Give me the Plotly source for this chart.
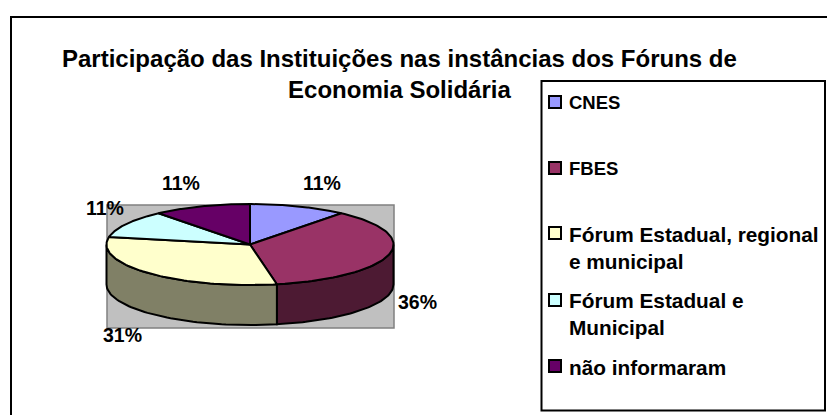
import numpy as np
import plotly.graph_objects as go

categories = ["CNES", "FBES", "Fórum Estadual, regional<br>e municipal", "Fórum Estadual e<br>Municipal", "não informaram"]
values = [11, 36, 31, 11, 11]
top_colors = ["#9999FF", "#993366", "#FFFFCC", "#CCFFFF", "#660066"]
side_colors = ["#4D4D80", "#4D1A33", "#808066", "#668080", "#330033"]
title_text = "Participação das Instituições nas instâncias dos Fóruns de<br>Economia Solidária"

W, H = 827, 415
CX, CY, RX, RY, DEPTH = 250, 244.5, 143.5, 40.5, 40
INK = "#000000"

fig = go.Figure()
fig.update_layout(
    width=W, height=H, margin=dict(l=0, r=0, t=0, b=0),
    paper_bgcolor="white", plot_bgcolor="white", showlegend=False,
    xaxis=dict(range=[0, W], visible=False, fixedrange=True),
    yaxis=dict(range=[H, 0], visible=False, fixedrange=True),
    font=dict(family="Liberation Sans", color="black"),
)

def rect(x0, y0, x1, y1, fill=None, line="black", lw=2):
    fig.add_shape(type="rect", x0=x0, y0=y0, x1=x1, y1=y1,
                  fillcolor=fill or "rgba(0,0,0,0)",
                  line=dict(color=line, width=lw), layer="below")

fig.add_shape(type="path", path="M 11 420 L 11 17 L 830 17", line=dict(color="black", width=2), layer="below")
rect(107, 205, 394, 328, fill="#C0C0C0", line="#808080", lw=1.5)
rect(541.5, 81, 825, 410.5, fill="white", line="black", lw=2)

def ell(frac):
    a = 2 * np.pi * np.asarray(frac)
    return CX + RX * np.sin(a), CY - RY * np.cos(a)

cum = np.concatenate([[0], np.cumsum(values)]) / sum(values)

# rim (only the visible front part: a from 25% to 75% of the turn)
for i in range(len(values)):
    lo, hi = max(cum[i], 0.25), min(cum[i + 1], 0.75)
    if hi <= lo:
        continue
    t = np.linspace(lo, hi, 60)
    x, y = ell(t)
    px = np.concatenate([x, x[::-1], x[:1]])
    py = np.concatenate([y, y[::-1] + DEPTH, y[:1]])
    fig.add_trace(go.Scatter(x=px, y=py, mode="lines", fill="toself", fillcolor=side_colors[i],
                             line=dict(color=INK, width=2), hoverinfo="skip"))

# top face
for i in range(len(values)):
    t = np.linspace(cum[i], cum[i + 1], 80)
    x, y = ell(t)
    px = np.concatenate([[CX], x, [CX]])
    py = np.concatenate([[CY], y, [CY]])
    fig.add_trace(go.Scatter(x=px, y=py, mode="lines", fill="toself", fillcolor=top_colors[i],
                             line=dict(color=INK, width=2), hoverinfo="skip"))

# title
fig.add_annotation(x=399, y=73.5, text="<b>" + title_text + "</b>", showarrow=False, xanchor="center",
                   yanchor="middle", align="center", font=dict(size=24, family="Liberation Sans", color="black"))

# percent labels
label_xy = [(322, 183), (417, 302), (122, 335), (105, 208), (181, 183)]
for (lx, ly), v in zip(label_xy, values):
    fig.add_annotation(x=lx, y=ly, text=f"<b>{v}%</b>", showarrow=False, xanchor="center", yanchor="middle",
                       font=dict(size=19.5, family="Liberation Sans", color="black"))

# legend
swatch_y = [102, 168, 233, 300, 366]
label_y = [102, 168, 248, 314, 367]
label_size = [18.5, 18.5, 20.8, 20.8, 20.8]
for yy, ly, sz, c, name in zip(swatch_y, label_y, label_size, top_colors, categories):
    fig.add_shape(type="rect", x0=549, y0=yy - 6, x1=561, y1=yy + 6, fillcolor=c,
                  line=dict(color="black", width=2))
    fig.add_annotation(x=567, y=ly, text="<b>" + name + "</b>", showarrow=False, xanchor="left", yanchor="middle",
                       align="left", font=dict(size=sz, family="Liberation Sans", color="black"))

fig.write_html("out.html", config={"displayModeBar": False},
               post_script="document.body.style.margin='0';document.body.style.overflow='hidden';")
